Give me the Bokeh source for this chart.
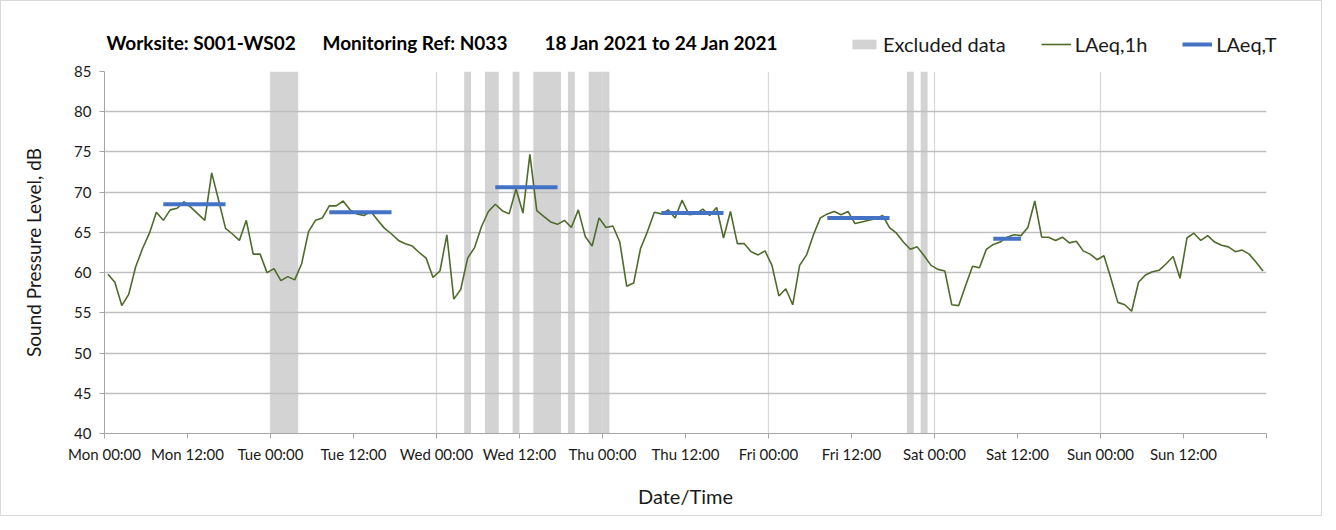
from bokeh.plotting import figure
from bokeh.models import Range1d, FixedTicker, Legend, LegendItem
from bokeh.layouts import column
from bokeh.core.properties import value
from bokeh.embed import file_html
from bokeh.resources import INLINE

# ---------------- data ----------------
days = ["Mon", "Tue", "Wed", "Thu", "Fri", "Sat", "Sun"]

# hourly LAeq,1h values (hour-centred, Mon 00:30 ... Sun 23:30)
laeq_1h = [
    59.8, 58.8, 55.9, 57.3, 60.7, 63.0, 64.9, 67.5, 66.5, 67.8, 68.0, 68.8,
    68.1, 67.3, 66.5, 72.4, 69.0, 65.5, 64.8, 64.0, 66.5, 62.3, 62.3, 60.0,
    60.5, 59.0, 59.5, 59.1, 61.1, 65.1, 66.5, 66.8, 68.3, 68.3, 68.9, 67.8,
    67.3, 67.1, 67.6, 66.5, 65.5, 64.8, 64.0, 63.6, 63.3, 62.5, 61.8, 59.4,
    60.2, 64.7, 56.7, 57.9, 61.8, 63.1, 65.7, 67.6, 68.5, 67.7, 67.3, 70.4,
    67.4, 74.7, 67.7, 67.0, 66.3, 66.0, 66.5, 65.6, 67.8, 64.5, 63.3, 66.8,
    65.6, 65.8, 63.8, 58.3, 58.7, 63.0, 65.1, 67.5, 67.3, 67.8, 66.8, 69.0,
    67.2, 67.3, 67.9, 67.1, 68.1, 64.3, 67.6, 63.6, 63.6, 62.6, 62.2, 62.7,
    60.9, 57.1, 58.0, 56.0, 60.9, 62.2, 64.7, 66.8, 67.3, 67.6, 67.2, 67.6,
    66.1, 66.3, 66.5, 66.7, 67.1, 65.6, 64.9, 63.8, 62.9, 63.2, 62.1, 60.9,
    60.4, 60.2, 56.0, 55.9, 58.4, 60.8, 60.6, 62.9, 63.5, 63.8, 64.4, 64.7,
    64.6, 65.6, 68.9, 64.4, 64.4, 64.0, 64.4, 63.7, 63.9, 62.7, 62.3, 61.6,
    62.1, 59.3, 56.3, 56.0, 55.2, 58.8, 59.7, 60.1, 60.3, 61.1, 62.0, 59.3,
    64.3, 64.9, 64.0, 64.6, 63.8, 63.4, 63.2, 62.6, 62.8, 62.3, 61.3, 60.2,
]
hours = [i + 0.5 for i in range(len(laeq_1h))]

# LAeq,T period values
laeqT_start = [8.5, 32.5, 56.5, 80.5, 104.5, 128.5]
laeqT_end = [17.5, 41.5, 65.5, 89.5, 113.5, 132.5]
laeqT_val = [68.5, 67.5, 70.6, 67.4, 66.8, 64.2]

# excluded periods (hours from Mon 00:00)
excl_start = [24, 52, 55, 59, 62, 67, 70, 116, 118]
excl_end = [28, 53, 57, 60, 66, 68, 73, 117, 119]

y_ticks = [40, 45, 50, 55, 60, 65, 70, 75, 80, 85]
x_ticks = [12 * k for k in range(15)]
tick_labels = {}
for k, t in enumerate(x_ticks):
    if k < 14:
        tick_labels[t] = f"{days[k // 2]} {'00:00' if k % 2 == 0 else '12:00'}"
    else:
        tick_labels[t] = ""

title_parts = ["Worksite: S001-WS02", "Monitoring Ref: N033", "18 Jan 2021 to 24 Jan 2021"]

FONT = "Lato"
W = 1320
TOP_H = 60
BAND_COLOR = "#D3D3D3"
LINE_COLOR = "#4E6B2C"
SEG_COLOR = "#4472C4"

# ---------------- header (title + legend) ----------------
top = figure(width=W, height=TOP_H, output_backend="svg", toolbar_location=None,
             x_range=Range1d(0, W), y_range=Range1d(TOP_H, 0),
             min_border=0, min_border_left=0, min_border_right=0,
             min_border_top=0, min_border_bottom=0)
top.frame_align = False
top.axis.visible = False
top.grid.visible = False
top.outline_line_color = None
top.text(x=[105, 321, 543], y=[41, 41, 41], text=title_parts,
         text_font=value(FONT), text_font_style="bold", text_font_size="19px",
         text_baseline="middle", text_align="left", text_color="#000000")
# legend proxies (kept outside the visible header area)
lg_band = top.quad(left=[-40], right=[-30], bottom=[-40], top=[-30], fill_color=BAND_COLOR, line_color=None)
lg_line = top.line(x=[-40, -30], y=[-40, -40], line_color=LINE_COLOR, line_width=1.6)
lg_seg = top.segment(x0=[-40], x1=[-30], y0=[-40], y1=[-40], line_color=SEG_COLOR, line_width=4)
legend = Legend(items=[LegendItem(label="Excluded data", renderers=[lg_band]),
                       LegendItem(label="LAeq,1h", renderers=[lg_line]),
                       LegendItem(label="LAeq,T", renderers=[lg_seg])],
                orientation="horizontal", location=(848, 5),
                glyph_width=30, glyph_height=12, label_standoff=4, spacing=35,
                padding=0, margin=0, border_line_color=None, background_fill_alpha=0,
                label_text_font=FONT, label_text_font_size="20px", label_text_color="#1a1a1a")
top.add_layout(legend, "center")

# ---------------- main chart ----------------
p = figure(width=W, height=514 - TOP_H, output_backend="svg", toolbar_location=None,
           x_range=Range1d(0, 168), y_range=Range1d(40, 85),
           min_border_left=103, min_border_right=55, min_border_top=10, min_border_bottom=82)
p.frame_align = False
p.outline_line_color = None

bands = p.quad(left=excl_start, right=excl_end, bottom=40, top=85,
               fill_color=BAND_COLOR, line_color=None)
bands.level = "image"
p.line(hours, laeq_1h, line_color=LINE_COLOR, line_width=1.6)
p.segment(x0=laeqT_start, x1=laeqT_end, y0=laeqT_val, y1=laeqT_val,
          line_color=SEG_COLOR, line_width=4)

p.ygrid.ticker = FixedTicker(ticks=y_ticks)
p.ygrid.grid_line_color = "#BFBFBF"
p.ygrid.grid_line_width = 1.3
p.xgrid.ticker = FixedTicker(ticks=[24 * k for k in range(8)])
p.xgrid.grid_line_color = "#D9D9D9"
p.xgrid.grid_line_width = 1.3

p.yaxis.ticker = FixedTicker(ticks=y_ticks)
p.xaxis.ticker = FixedTicker(ticks=x_ticks)
p.xaxis.major_label_overrides = tick_labels
for ax in (p.xaxis[0], p.yaxis[0]):
    ax.axis_line_color = "#A6A6A6"
    ax.major_tick_line_color = "#A6A6A6"
    ax.minor_tick_line_color = None
    ax.major_tick_in = 0
    ax.major_tick_out = 5
    ax.major_label_text_font = FONT
    ax.major_label_text_font_size = "15px"
    ax.major_label_text_color = "#1a1a1a"
    ax.axis_label_text_font = FONT
    ax.axis_label_text_font_style = "normal"
    ax.axis_label_text_color = "#1a1a1a"
p.xaxis.axis_label_text_font_size = "20px"
p.yaxis.axis_label_text_font_size = "19px"
p.xaxis.axis_label = "Date/Time"
p.yaxis.axis_label = "Sound Pressure Level, dB"
p.xaxis.major_label_standoff = 6
p.yaxis.major_label_standoff = 8
p.xaxis.axis_label_standoff = 18
p.yaxis.axis_label_standoff = 26

layout = column(top, p, spacing=0, styles={"border": "1px solid #D9D9D9"})
open("out.html", "w").write(file_html(layout, INLINE))
